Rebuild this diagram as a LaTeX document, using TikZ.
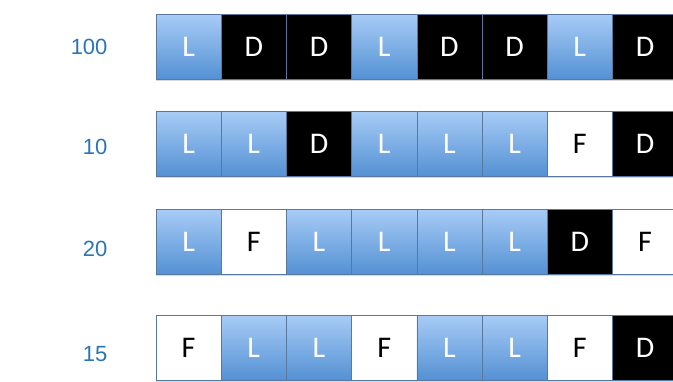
\documentclass[tikz,border=0pt]{standalone}
\usepackage{fontspec}
\setmainfont{Carlito}
\newfontfamily\labelfont{Liberation Sans}
\usepackage{tikz}
\usetikzlibrary{shadows}
\definecolor{celltop}{RGB}{168,204,246}
\definecolor{cellbot}{RGB}{84,145,212}
\definecolor{celledge}{RGB}{88,120,158}
\definecolor{rowlabel}{RGB}{42,117,184}

\begin{document}
\begin{tikzpicture}[x=1pt,y=-1pt,cell/.style={rectangle,draw=celledge,line width=0.6pt,minimum width=65.2pt,minimum height=65pt,inner sep=0pt,outer sep=0pt,font=\fontsize{30}{32}\selectfont,drop shadow={shadow xshift=0pt,shadow yshift=-1.5pt,opacity=0.3}},lcell/.style={cell,top color=celltop,bottom color=cellbot,text=white},dcell/.style={cell,fill=black,text=white},fcell/.style={cell,fill=white,text=black},weight/.style={anchor=east,text=rowlabel,font=\labelfont\fontsize{22}{24}\selectfont}]
\useasboundingbox (0,0) rectangle (673,381);
\clip (0,0) rectangle (673,381);
% row 100
\node[weight] (la) at (111,47) {100};
\node[lcell] (a1) at (188.6,46.5) {L};
\node[dcell] (a2) at (253.8,46.5) {D};
\node[dcell] (a3) at (319.0,46.5) {D};
\node[lcell] (a4) at (384.2,46.5) {L};
\node[dcell] (a5) at (449.4,46.5) {D};
\node[dcell] (a6) at (514.6,46.5) {D};
\node[lcell] (a7) at (579.8,46.5) {L};
\node[dcell] (a8) at (645.0,46.5) {D};
% row 10
\node[weight] (lb) at (111,147) {10};
\node[lcell] (b1) at (188.6,143.5) {L};
\node[lcell] (b2) at (253.8,143.5) {L};
\node[dcell] (b3) at (319.0,143.5) {D};
\node[lcell] (b4) at (384.2,143.5) {L};
\node[lcell] (b5) at (449.4,143.5) {L};
\node[lcell] (b6) at (514.6,143.5) {L};
\node[fcell] (b7) at (579.8,143.5) {F};
\node[dcell] (b8) at (645.0,143.5) {D};
% row 20
\node[weight] (lc) at (111,249) {20};
\node[lcell] (c1) at (188.6,241.5) {L};
\node[fcell] (c2) at (253.8,241.5) {F};
\node[lcell] (c3) at (319.0,241.5) {L};
\node[lcell] (c4) at (384.2,241.5) {L};
\node[lcell] (c5) at (449.4,241.5) {L};
\node[lcell] (c6) at (514.6,241.5) {L};
\node[dcell] (c7) at (579.8,241.5) {D};
\node[fcell] (c8) at (645.0,241.5) {F};
% row 15
\node[weight] (ld) at (111,354) {15};
\node[fcell] (d1) at (188.6,347.5) {F};
\node[lcell] (d2) at (253.8,347.5) {L};
\node[lcell] (d3) at (319.0,347.5) {L};
\node[fcell] (d4) at (384.2,347.5) {F};
\node[lcell] (d5) at (449.4,347.5) {L};
\node[lcell] (d6) at (514.6,347.5) {L};
\node[fcell] (d7) at (579.8,347.5) {F};
\node[dcell] (d8) at (645.0,347.5) {D};
\end{tikzpicture}
\end{document}
